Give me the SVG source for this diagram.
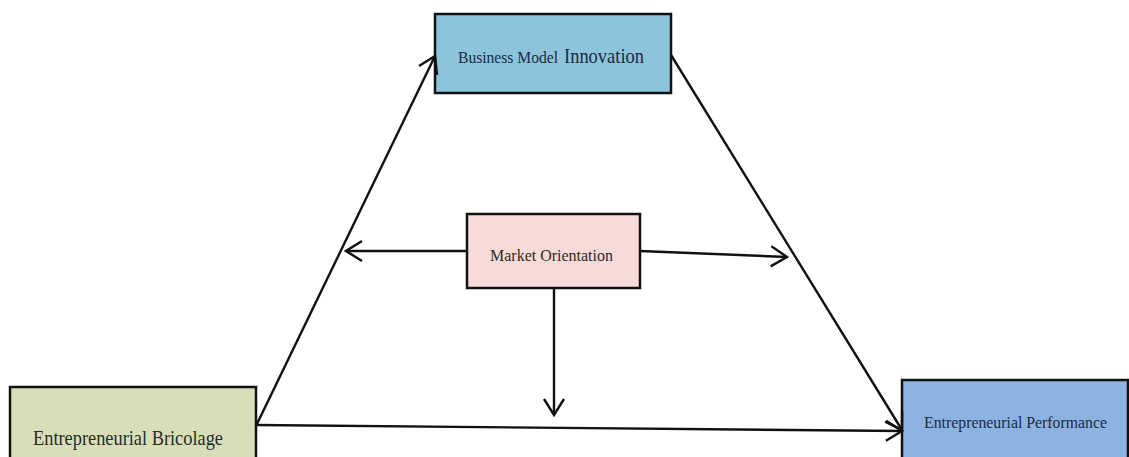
<svg xmlns="http://www.w3.org/2000/svg" width="1129" height="457" viewBox="0 0 1129 457">
<style>
.box{stroke:#111;stroke-width:2.5}
.t{font-family:"Liberation Serif","Times New Roman",serif}
.c line{stroke:#111;stroke-width:2.4;fill:none}
</style>
<defs>
<marker id="ah" viewBox="0 0 20 24" refX="18" refY="12" markerWidth="20" markerHeight="24" markerUnits="userSpaceOnUse" orient="auto">
<path d="M2,2 L18,12 L2,22" fill="none" stroke="#111" stroke-width="2.4"/>
</marker>
</defs>
<rect width="1129" height="457" fill="#fff"/>
<g id="bmi">
<rect class="box" x="435" y="14" width="236" height="79" fill="#8CC4DC"/>
<text class="t" y="63" fill="#1c2a40"><tspan x="458" font-size="17" textLength="100" lengthAdjust="spacingAndGlyphs">Business Model</tspan><tspan x="564" font-size="22" textLength="80" lengthAdjust="spacingAndGlyphs">Innovation</tspan></text>
</g>
<g id="mo">
<rect class="box" x="467" y="214" width="173" height="74" fill="#F8DAD8"/>
<text class="t" x="490" y="261" font-size="17" textLength="123" lengthAdjust="spacingAndGlyphs" fill="#2a2a2a">Market Orientation</text>
</g>
<g id="eb">
<rect class="box" x="10" y="387" width="246" height="80" fill="#D8DFB8"/>
<text class="t" x="33" y="445" font-size="21" textLength="190" lengthAdjust="spacingAndGlyphs" fill="#2a2a2a">Entrepreneurial Bricolage</text>
</g>
<g id="ep">
<rect class="box" x="902" y="380" width="226" height="87" fill="#8DB3E2"/>
<text class="t" x="924" y="428" font-size="17" textLength="183" lengthAdjust="spacingAndGlyphs" fill="#1c2a40">Entrepreneurial Performance</text>
</g>
<g id="connectors" class="c">
<line x1="256" y1="426" x2="435" y2="56" marker-end="url(#ah)"/>
<line x1="671" y1="55" x2="902" y2="430" marker-end="url(#ah)"/>
<line x1="256" y1="425" x2="902" y2="431" marker-end="url(#ah)"/>
<line x1="467" y1="251" x2="346" y2="251" marker-end="url(#ah)"/>
<line x1="640" y1="251" x2="787" y2="257" marker-end="url(#ah)"/>
<line x1="554" y1="288" x2="554" y2="415" marker-end="url(#ah)"/>
</g>
</svg>
